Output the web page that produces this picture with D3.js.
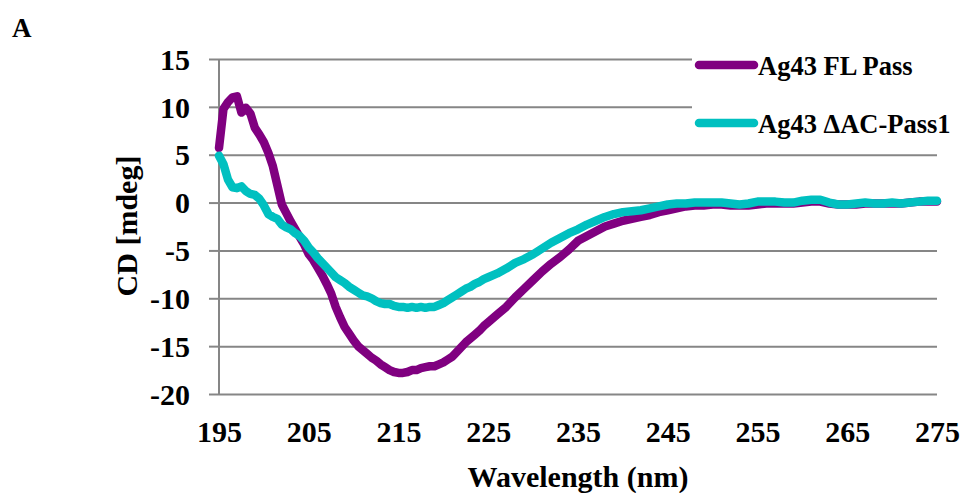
<!DOCTYPE html>
<meta charset="utf-8">
<style>
body { margin: 0; background: #fff; }
svg text { font-family: "Liberation Serif", "Times New Roman", serif; font-weight: bold; fill: #000; }
</style>
<svg width="963" height="493"></svg>
<script src="https://d3js.org/d3.v7.min.js"></script>
<script>

// wavelength (nm): 0.5 nm steps up to 225, then 1 nm
var wavelength = [195, 195.5, 196, 196.5, 197, 197.5, 198, 198.5, 199, 199.5,
  200, 200.5, 201, 201.5, 202, 202.5, 203, 203.5, 204, 204.5,
  205, 205.5, 206, 206.5, 207, 207.5, 208, 208.5, 209, 209.5,
  210, 210.5, 211, 211.5, 212, 212.5, 213, 213.5, 214, 214.5,
  215, 215.5, 216, 216.5, 217, 217.5, 218, 218.5, 219, 219.5,
  220, 220.5, 221, 221.5, 222, 222.5, 223, 223.5, 224, 224.5,
  225, 226, 227, 228, 229, 230, 231, 232, 233, 234,
  235, 236, 237, 238, 239, 240, 241, 242, 243, 244,
  245, 246, 247, 248, 249, 250, 251, 252, 253, 254,
  255, 256, 257, 258, 259, 260, 261, 262, 263, 264,
  265, 266, 267, 268, 269, 270, 271, 272, 273, 274, 275]

var flPass = [5.7, 9.8, 10.5, 11.0, 11.1, 9.4, 9.9, 9.3, 7.8, 7.1,
  6.3, 5.2, 3.8, 1.8, -0.2, -1.1, -2.0, -2.8, -3.6, -4.4,
  -5.4, -6.0, -6.8, -7.6, -8.5, -9.5, -10.9, -12.0, -13.0, -13.7,
  -14.4, -15.0, -15.4, -15.8, -16.2, -16.5, -16.9, -17.2, -17.5, -17.7,
  -17.8, -17.8, -17.7, -17.5, -17.5, -17.3, -17.2, -17.1, -17.1, -16.9,
  -16.7, -16.4, -16.1, -15.6, -15.1, -14.6, -14.2, -13.8, -13.4, -12.9,
  -12.5, -11.7, -10.9, -9.9, -9.0, -8.1, -7.2, -6.4, -5.7, -4.9,
  -4.0, -3.5, -3.0, -2.5, -2.2, -1.9, -1.7, -1.5, -1.3, -1.0,
  -0.8, -0.6, -0.4, -0.3, -0.3, -0.2, -0.2, -0.3, -0.3, -0.3,
  -0.2, -0.1, -0.1, -0.1, -0.1, 0.0, 0.1, 0.1, -0.1, -0.2,
  -0.2, -0.2, -0.1, -0.1, -0.1, -0.1, -0.1, 0.0, 0.1, 0.1, 0.1]

var dacPass1 = [4.9, 4.0, 2.4, 1.6, 1.5, 1.7, 1.2, 0.9, 0.8, 0.4,
  -0.3, -1.2, -1.5, -1.7, -2.3, -2.6, -2.8, -3.2, -3.5, -4.0,
  -4.7, -5.2, -5.8, -6.3, -6.8, -7.3, -7.8, -8.1, -8.4, -8.8,
  -9.1, -9.4, -9.7, -9.8, -10.0, -10.3, -10.5, -10.6, -10.6, -10.8,
  -10.9, -10.9, -11.0, -10.9, -11.0, -10.9, -11.0, -10.9, -10.9, -10.7,
  -10.5, -10.2, -9.9, -9.6, -9.3, -9.0, -8.8, -8.5, -8.3, -8.0,
  -7.8, -7.4, -6.9, -6.3, -5.9, -5.4, -4.8, -4.2, -3.7, -3.2,
  -2.8, -2.3, -1.9, -1.5, -1.2, -1.0, -0.9, -0.8, -0.6, -0.4,
  -0.2, -0.1, -0.1, 0.0, 0.0, 0.0, 0.0, -0.1, -0.2, -0.1,
  0.1, 0.1, 0.1, 0.0, 0.0, 0.2, 0.3, 0.3, 0.0, -0.2,
  -0.2, -0.1, 0.0, -0.1, -0.1, 0.0, -0.1, 0.0, 0.1, 0.2, 0.2]

var seriesNames = ["Ag43 FL Pass", "Ag43 \u0394AC-Pass1"]
var seriesColors = ["#800080", "#00c0c0"]
var xTicks = [195, 205, 215, 225, 235, 245, 255, 265, 275]
var yTicks = [15, 10, 5, 0, -5, -10, -15, -20]

var svg = d3.select("svg")
var plotLeft = 219, plotRight = 937, plotTop = 59, plotBottom = 394

var xScale = d3.scaleLinear().domain([195, 275]).range([plotLeft, plotRight])
var yScale = d3.scaleLinear().domain([-20, 15]).range([plotBottom, plotTop])

// gridlines + y ticks
var yAxis = svg.append("g")
  .attr("transform", "translate(" + plotLeft + ",0)")
  .call(d3.axisLeft(yScale).tickValues(yTicks).tickSize(10).tickPadding(19)
    .tickFormat(function(d) { return String(d) }))
yAxis.select(".domain").remove()
yAxis.selectAll("line").attr("stroke", "#868686").attr("stroke-width", 2)
yAxis.selectAll("text").style("font-size", "30px").attr("dy", "0.34em")
yAxis.selectAll(".tick").append("line")
  .attr("x1", 0).attr("x2", plotRight - plotLeft)
  .attr("stroke", "#868686").attr("stroke-width", 2)

svg.append("line")
  .attr("x1", plotLeft).attr("x2", plotLeft)
  .attr("y1", plotTop).attr("y2", plotBottom)
  .attr("stroke", "#868686").attr("stroke-width", 2)

var xAxis = svg.append("g")
  .attr("transform", "translate(0," + plotBottom + ")")
  .call(d3.axisBottom(xScale).tickValues(xTicks).tickSize(0).tickPadding(27))
xAxis.select(".domain").remove()
xAxis.selectAll("text").style("font-size", "30px")

// series
var series = [flPass, dacPass1]
var line = d3.line()
  .x(function(d, i) { return xScale(wavelength[i]) })
  .y(function(d) { return yScale(d) })

series.forEach(function(s, k) {
  svg.append("path")
    .datum(s)
    .attr("fill", "none")
    .attr("stroke", seriesColors[k])
    .attr("stroke-width", 8.5)
    .attr("stroke-linejoin", "round")
    .attr("stroke-linecap", "round")
    .attr("d", line)
})

// legend
svg.append("rect")
  .attr("x", 692).attr("y", 42).attr("width", 271).attr("height", 105)
  .attr("fill", "#fff")

seriesNames.forEach(function(name, k) {
  var y = 65 + k * 58
  svg.append("line")
    .attr("x1", 699).attr("x2", 754)
    .attr("y1", y).attr("y2", y)
    .attr("stroke", seriesColors[k])
    .attr("stroke-width", 8.5)
    .attr("stroke-linecap", "round")
  svg.append("text")
    .attr("x", 758).attr("y", y + 10)
    .style("font-size", "26.5px")
    .text(name)
})

// titles
svg.append("text")
  .attr("x", 12).attr("y", 37)
  .style("font-size", "27px")
  .text("A")

svg.append("text")
  .attr("text-anchor", "middle")
  .attr("transform", "translate(137,226)rotate(-90)")
  .style("font-size", "30px")
  .text("CD [mdeg]")

svg.append("text")
  .attr("x", 578).attr("y", 487)
  .attr("text-anchor", "middle")
  .style("font-size", "30px")
  .text("Wavelength (nm)")

</script>
